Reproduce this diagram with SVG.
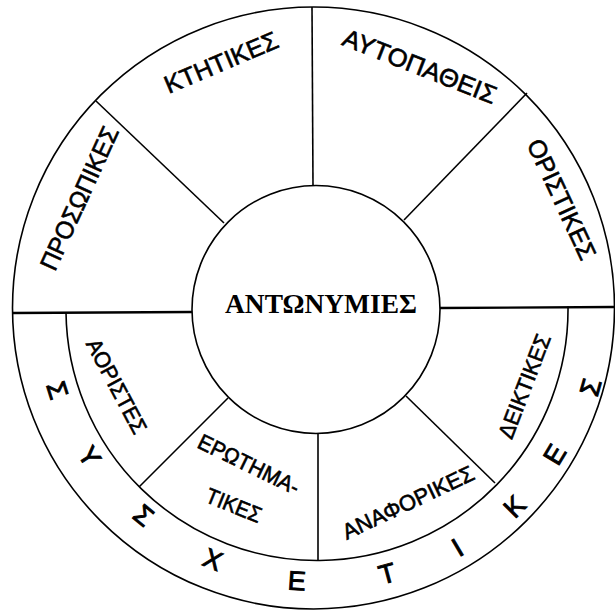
<svg xmlns="http://www.w3.org/2000/svg" width="615" height="614" viewBox="0 0 615 614">
<style>
.ln{stroke:#000;stroke-width:1.6;fill:none}
.hz{stroke:#000;stroke-width:2.4;fill:none}
.lb{font-family:"Liberation Sans","DejaVu Sans",sans-serif;fill:#000;stroke:#000;stroke-width:0.6;text-anchor:middle}
.big{font-size:25px}
.sm{font-size:22px}
.rg{font-size:27px;stroke-width:0.9}
.ctr{font-family:"Liberation Serif","DejaVu Serif",serif;font-weight:bold;font-size:27px;fill:#000}
</style>
<rect width="615" height="614" fill="#fff"/>
<g id="outer-ring">
<circle cx="313.5" cy="308" r="301" class="ln"/>
<path d="M66 312.5 A1 1 0 0 0 568 306.5" class="ln"/>
</g>
<g id="connectors">
<line x1="312" y1="7" x2="313" y2="186" class="ln"/>
<line x1="96" y1="101" x2="224" y2="223" class="ln"/>
<line x1="527" y1="93" x2="404" y2="220" class="ln"/>
<line x1="12" y1="313" x2="192" y2="312" class="hz"/>
<line x1="440" y1="308" x2="614" y2="307" class="hz"/>
<line x1="139" y1="487" x2="228" y2="398" class="ln"/>
<line x1="318" y1="434" x2="318" y2="561" class="ln"/>
<line x1="406" y1="396" x2="495" y2="483" class="ln"/>
</g>
<g id="center">
<circle cx="316" cy="309.5" r="124" fill="#fff" class="ln"/>
<text class="ctr" x="225" y="313" textLength="192" lengthAdjust="spacingAndGlyphs">ΑΝΤΩΝΥΜΙΕΣ</text>
</g>
<g id="prosopikes"><text class="lb big" transform="translate(79 198) rotate(-65.5)" y="9" textLength="155" lengthAdjust="spacingAndGlyphs">ΠΡΟΣΩΠΙΚΕΣ</text></g>
<g id="ktitikes"><text class="lb big" transform="translate(221 62) rotate(-23)" y="9" textLength="121" lengthAdjust="spacingAndGlyphs">ΚΤΗΤΙΚΕΣ</text></g>
<g id="aftopatheis"><text class="lb big" transform="translate(420 66) rotate(21.5)" y="9" textLength="163" lengthAdjust="spacingAndGlyphs">ΑΥΤΟΠΑΘΕΙΣ</text></g>
<g id="oristikes"><text class="lb big" transform="translate(562 199) rotate(65)" y="9" textLength="130" lengthAdjust="spacingAndGlyphs">ΟΡΙΣΤΙΚΕΣ</text></g>
<g id="aoristes"><text class="lb sm" transform="translate(117 386) rotate(62)" y="8" textLength="104" lengthAdjust="spacingAndGlyphs">ΑΟΡΙΣΤΕΣ</text></g>
<g id="erotimatikes">
<text class="lb sm" transform="translate(249 464) rotate(26)" y="8" textLength="110" lengthAdjust="spacingAndGlyphs">ΕΡΩΤΗΜΑ-</text>
<text class="lb sm" transform="translate(234 505) rotate(22)" y="8" textLength="58" lengthAdjust="spacingAndGlyphs">ΤΙΚΕΣ</text>
</g>
<g id="anaforikes"><text class="lb sm" transform="translate(408 502) rotate(-25.4)" y="8" textLength="143" lengthAdjust="spacingAndGlyphs">ΑΝΑΦΟΡΙΚΕΣ</text></g>
<g id="deiktikes"><text class="lb sm" transform="translate(524 386) rotate(-69)" y="8" textLength="110" lengthAdjust="spacingAndGlyphs">ΔΕΙΚΤΙΚΕΣ</text></g>
<g id="sysxetikes">
<text class="lb rg" transform="translate(58 390) rotate(72.5)" y="10">Σ</text>
<text class="lb rg" transform="translate(90 456) rotate(56.8)" y="10">Υ</text>
<text class="lb rg" transform="translate(144 515) rotate(39.7)" y="10">Σ</text>
<text class="lb rg" transform="translate(213 559) rotate(22.2)" y="10">Χ</text>
<text class="lb rg" transform="translate(297 580) rotate(3.8)" y="10">Ε</text>
<text class="lb rg" transform="translate(387 573) rotate(-15.3)" y="10">Τ</text>
<text class="lb rg" transform="translate(457 547) rotate(-30.8)" y="10">Ι</text>
<text class="lb rg" transform="translate(514 506) rotate(-45.3)" y="10">Κ</text>
<text class="lb rg" transform="translate(554 454) rotate(-58.8)" y="10">Ε</text>
<text class="lb rg" transform="translate(590 387) rotate(-74.2)" y="10">Σ</text>
</g>
</svg>
